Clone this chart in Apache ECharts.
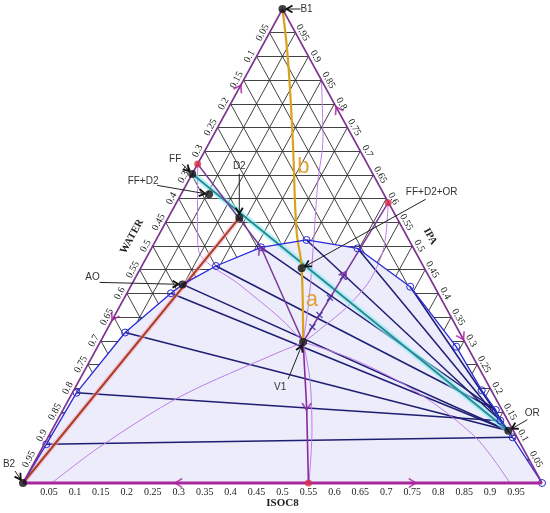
<!DOCTYPE html>
<html><head><meta charset="utf-8">
<script src="https://cdn.jsdelivr.net/npm/echarts@6/dist/echarts.min.js"></script>
<style>html,body{margin:0;padding:0;background:#fff}#c{width:550px;height:513px}</style>
</head><body><div id="c"></div>
<script>
// All compositions are [IPA, ISOC8] mole fractions; WATER = 1 - IPA - ISOC8
const ticks = [0.05,0.1,0.15,0.2,0.25,0.3,0.35,0.4,0.45,0.5,0.55,0.6,0.65,0.7,0.75,0.8,0.85,0.9,0.95];
const tickLabels = ['0.05','0.1','0.15','0.2','0.25','0.3','0.35','0.4','0.45','0.5','0.55','0.6','0.65','0.7','0.75','0.8','0.85','0.9','0.95'];
const axisTitles = ['WATER','IPA','ISOC8'];

// binodal curve (liquid-liquid envelope)
const binodal = [[0,0],[0.0816,0.004],[0.1905,0.008],[0.3175,0.038],[0.4002,0.085],[0.419,0.098],[0.4578,0.143],[0.4973,0.210],[0.5127,0.290],[0.4951,0.397],[0.4141,0.539],[0.2876,0.691],[0.1956,0.786],[0.154,0.834],[0.1314,0.854],[0.1103,0.880],[0.0964,0.895],[0,1]];
const binodalCircle = [false,true,true,true,true,false,true,true,true,true,true,true,true,true,true,false,true,true];

// tie lines
const tieLines = [
 [[0.0816,0.004],[0.0964,0.895]],
 [[0.1905,0.008],[0.1314,0.854]],
 [[0.3175,0.038],[0.1103,0.880]],
 [[0.4002,0.085],[0.1103,0.880]],
 [[0.419,0.098],[0.1103,0.880]],
 [[0.4578,0.143],[0.154,0.834]],
 [[0.4973,0.210],[0.154,0.834]],
 [[0.5127,0.290],[0.1314,0.854]],
 [[0.4951,0.397],[0.1103,0.880]],
 [[0.4141,0.539],[0.1103,0.880]]
];

// residue curves / boundaries
const boundaryLeft = [[0.673,0],[0.4973,0.210],[0.2975,0.391]];
const boundaryRight = [[0.5913,0.408],[0.2975,0.391]];
const boundaryDown = [[0.2975,0.391],[0.161,0.466],[0,0.55]];
const curveL1 = [[0.673,0],[0.5338,0.0693],[0.4873,0.0954],[0.4177,0.2092],[0.3481,0.3211],[0.2975,0.391]];
const curveL2 = [[0,0.0553],[0.0766,0.1101],[0.1821,0.2115],[0.277,0.3567],[0.2975,0.391],[0.3291,0.4134],[0.3713,0.4386],[0.4283,0.4545],[0.4979,0.4466],[0.5913,0.408]];
const curveL3 = [[0.2975,0.391],[0.2637,0.4981],[0.2131,0.6199],[0.154,0.7322],[0.0865,0.8373],[0,0.9383]];
const curveL4 = [[0.850,0.150],[0.7236,0.2162],[0.6392,0.2488],[0.4916,0.313],[0.3861,0.358],[0.2975,0.391]];
const curveL5 = [[0.2975,0.391],[0.2173,0.4443],[0.1118,0.5009],[0,0.551]];
const yellowPath = [[1,0],[0.8924,0.0644],[0.7236,0.158],[0.5338,0.260],[0.453,0.3105],[0.2975,0.391]];
const mixLine = [[0,0],[0.5595,0.137]];           // B2 - D2
const feedLine = [[0.652,0],[0.1103,0.880]];      // FF - OR
const crossPts = [[0.435,0.399],[0.3907,0.396],[0.3545,0.394],[0.3292,0.393]];

// named points
const pointNames = ['B1','B2','FF','FF+D2','D2','AO','FF+D2+OR','V1','OR'];
const pointComp = [[1,0],[0,0],[0.652,0],[0.609,0.054],[0.5595,0.137],[0.419,0.098],[0.453,0.3105],[0.2975,0.391],[0.1103,0.880]];
const redPts = [[0.673,0],[0.5913,0.408],[0,0.55]];
const segLabels = ['b','a'];
const segLabelPos = [[0.6673,0.2065],[0.3861,0.3633]];

// direction arrows [comp, rotation deg]
const edgeArrows = [[[0.833,0],-28.6],[[0.35,0],151.4],[[0.787,0.213],28.6],[[0.309,0.691],208.6],[[0,0.3],90],[[0,0.75],-90]];
const curveArrows = [[[0.49,0.214],24.4],[[0.44,0.399],-31.9],[[0.161,0.466],180]];

// annotation layout (pixel offsets: text centre, line start)
const annText = {'B1':[24,0],'B2':[-14,-19],'FF':[-17,-15],'FF+D2':[-66,-13],'D2':[0,-52],'AO':[-90,-7],'FF+D2+OR':[130,-76],'V1':[-23,45],'OR':[24,-17]};
const annLine = {'B1':[18,0],'B2':[-8,-12],'FF':[-10,-10],'FF+D2':[-52,-9],'D2':[0,-44],'AO':[-83,-2],'FF+D2+OR':[124,-69],'V1':[-15,37],'OR':[19,-11]};

const T = p => [p[1] + p[0] / 2, p[0]];

const chart = echarts.init(document.getElementById('c'), null, {renderer:'canvas', width:550, height:513});

function ln(pts, color, width, z, smooth) {
  return {type:'line', data: pts.map(T), symbol:'none', showSymbol:false, smooth: smooth || false,
    lineStyle:{color:color, width:width}, z:z, silent:true, animation:false, clip:false};
}
const gridSegs = [];
ticks.forEach(k => {
  gridSegs.push({coords:[T([k,0]),T([k,1-k])]});
  gridSegs.push({coords:[T([1-k,0]),T([0,1-k])]});
  gridSegs.push({coords:[T([1-k,k]),T([0,k])]});
});
const chevron = 'path://M0,10L5,0L10,10';
const series = [
  {type:'lines', coordinateSystem:'cartesian2d', data:gridSegs, lineStyle:{color:'#2e2e2e', width:0.9, opacity:1}, z:1, silent:true, animation:false},
  {type:'custom', data:[0], z:2, silent:true, animation:false, clip:false,
    renderItem:(params, api) => ({type:'polygon', shape:{points: binodal.map(p => api.coord(T(p)))}, style:{fill:'#ececfb'}})},
  {type:'lines', coordinateSystem:'cartesian2d', data: tieLines.map(s => ({coords: s.map(T)})), lineStyle:{color:'#1e1e72', width:1.5, opacity:1}, z:3, silent:true, animation:false},
  ln(curveL1,'#bf7de8',1,4,0.3), ln(curveL2,'#bf7de8',1,4,0.3), ln(curveL3,'#bf7de8',1,4,0.3), ln(curveL4,'#bf7de8',1,4,0.3), ln(curveL5,'#bf7de8',1,4,0.3),
  ln(mixLine,'rgba(245,170,210,0.55)',5,5), ln(mixLine,'#a8401c',2,6),
  ln(feedLine,'rgba(140,238,245,0.6)',6,5), ln(feedLine,'#2a8a94',2,6),
  ln(boundaryLeft,'#7a3a9a',1.5,7), ln(boundaryRight,'#7a3a9a',1.5,7), ln(boundaryDown,'#8a2aa0',1.6,7),
  ln(yellowPath,'#d9a21b',2.2,8,0.4),
  {type:'line', z:9, silent:true, animation:false, clip:false, showSymbol:true, symbol:'circle', symbolSize:7,
    data: binodal.map((p,i) => binodalCircle[i] ? {value:T(p)} : {value:T(p), symbol:'none'}),
    lineStyle:{color:'#2a2ad6', width:1.3}, itemStyle:{color:'rgba(0,0,0,0)', borderColor:'#2a2ad6', borderWidth:1}},
  ln([[0,0],[1,0]],'#7e3391',1.6,10), ln([[1,0],[0,1]],'#7e3391',1.6,10), ln([[0,0],[0,1]],'#a8289c',3,10),
  {type:'scatter', z:11, silent:true, animation:false, symbol:'path://M0,0L10,10M10,0L0,10', symbolSize:6,
    data: crossPts.map(T), itemStyle:{color:'rgba(0,0,0,0)', borderColor:'#3b2a9a', borderWidth:1.4}},
  {type:'scatter', z:11, silent:true, animation:false, symbol:chevron, symbolSize:[9,7],
    data: edgeArrows.map(a => ({value:T(a[0]), symbolRotate:a[1]})), itemStyle:{color:'rgba(0,0,0,0)', borderColor:'#b01fa0', borderWidth:1.6}},
  {type:'scatter', z:11, silent:true, animation:false, symbol:chevron, symbolSize:[9,7],
    data: curveArrows.map(a => ({value:T(a[0]), symbolRotate:a[1]})), itemStyle:{color:'rgba(0,0,0,0)', borderColor:'#8a2aa0', borderWidth:1.6}},
  {type:'scatter', z:12, silent:true, animation:false, symbolSize:7, data: redPts.map(T), itemStyle:{color:'#d8304a'}},
  {type:'scatter', z:13, silent:true, animation:false, symbolSize:8, data: pointComp.map(T), itemStyle:{color:'#111'}}
];

chart.setOption({
  animation:false,
  grid:{left:23, top:9, width:519, height:474},
  xAxis:{type:'value', min:0, max:1, show:false},
  yAxis:{type:'value', min:0, max:1, show:false},
  series: series
});

const px = p => chart.convertToPixel({gridIndex:0}, T(p));
const vL = px([0,0]), vT = px([1,0]), vR = px([0,1]);
const ANG = Math.atan2(vL[1] - vT[1], vT[0] - vL[0]);
const serif = '10px "Liberation Serif", "Times New Roman", serif';
const sans = '10px "Liberation Sans", Arial, sans-serif';
const g = [];
function txt(s, x, y, rot, font, fill) {
  g.push({type:'text', x:x, y:y, rotation:rot || 0, z:100, silent:true,
    style:{text:s, x:0, y:0, font:font, fill:fill || '#222', align:'center', verticalAlign:'middle', textAlign:'center', textVerticalAlign:'middle'}});
}
ticks.forEach((k, i) => {
  const pb = px([0,k]); txt(tickLabels[i], pb[0], pb[1] + 9, 0, serif);
  const pl = px([1-k,0]); txt(tickLabels[i], pl[0] - 7, pl[1], ANG, serif);
  const pr = px([k,1-k]); txt(tickLabels[i], pr[0] + 7, pr[1], -ANG, serif);
});
const tw = px([0.52,0]); txt(axisTitles[0], tw[0] - 26, tw[1], ANG, 'bold 10.5px "Liberation Serif", serif');
const ti = px([0.52,0.48]); txt(axisTitles[1], ti[0] + 23, ti[1], -ANG, 'bold 10.5px "Liberation Serif", serif');
const tb = px([0,0.5]); txt(axisTitles[2], tb[0], tb[1] + 20, 0, 'bold 11px "Liberation Serif", serif');
segLabels.forEach((s, i) => { const p = px(segLabelPos[i]); txt(s, p[0], p[1], 0, '22px "Liberation Sans", Arial, sans-serif', '#e0a23a'); });

pointNames.forEach((n, i) => {
  const p = px(pointComp[i]);
  const to = annText[n], lo = annLine[n];
  txt(n, p[0] + to[0], p[1] + to[1], 0, sans, '#333');
  const sx = p[0] + lo[0], sy = p[1] + lo[1];
  const dx = p[0] - sx, dy = p[1] - sy, L = Math.hypot(dx, dy);
  const ux = dx / L, uy = dy / L;
  const ex = p[0] - ux * 4, ey = p[1] - uy * 4;
  g.push({type:'line', z:99, silent:true, shape:{x1:sx, y1:sy, x2:ex, y2:ey}, style:{stroke:'#222', lineWidth:1}});
  const hx = ex - ux * 6, hy = ey - uy * 6, nx = -uy * 3.5, ny = ux * 3.5;
  g.push({type:'polyline', z:99, silent:true, shape:{points:[[hx + nx, hy + ny],[ex, ey],[hx - nx, hy - ny]]}, style:{stroke:'#111', lineWidth:1.8, fill:null}});
});
chart.setOption({graphic: g});
</script></body></html>
